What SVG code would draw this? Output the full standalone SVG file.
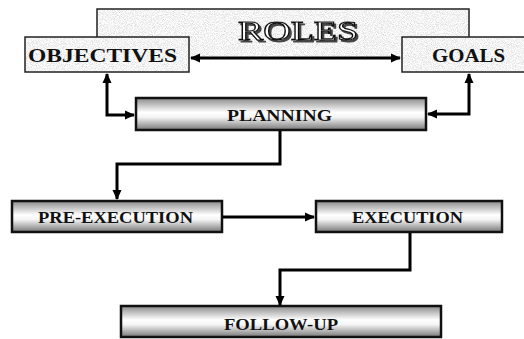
<svg xmlns="http://www.w3.org/2000/svg" width="524" height="339" viewBox="0 0 524 339">
  <defs>
    <!-- speckled stone fill for the heading boxes -->
    <filter id="granite" x="0" y="0" width="100%" height="100%">
      <feTurbulence type="fractalNoise" baseFrequency="1.1" numOctaves="2" seed="7" result="noise"/>
      <feColorMatrix in="noise" type="matrix" values="0.7 0 0 0 0.55  0.7 0 0 0 0.55  0.7 0 0 0 0.55  0 0 0 0 1" result="grain"/>
      <feComposite in="grain" in2="SourceGraphic" operator="in"/>
    </filter>
    <!-- raised outline lettering -->
    <filter id="emboss" x="-10%" y="-20%" width="130%" height="150%">
      <feOffset in="SourceAlpha" dx="2" dy="2" result="off"/>
      <feFlood flood-color="#444"/>
      <feComposite in2="off" operator="in" result="shade"/>
      <feMerge><feMergeNode in="shade"/><feMergeNode in="SourceGraphic"/></feMerge>
    </filter>
    <!-- metallic bar fill for the process steps -->
    <linearGradient id="bar" x1="0" y1="0" x2="0" y2="1">
      <stop offset="0" stop-color="#8a8a8a"/>
      <stop offset="0.45" stop-color="#ffffff"/>
      <stop offset="0.6" stop-color="#f4f4f4"/>
      <stop offset="1" stop-color="#777777"/>
    </linearGradient>
    <marker id="arrow" markerUnits="userSpaceOnUse" markerWidth="10" markerHeight="10" refX="9" refY="5" orient="auto-start-reverse">
      <path d="M0,0.5 L10,5 L0,9.5 z" fill="#000"/>
    </marker>
  </defs>
  <style>
    .stone { fill: #e2e2e2; filter: url(#granite); }
    .frame { fill: none; stroke: #222; stroke-width: 1.5; }
    .step { fill: url(#bar); stroke: #111; stroke-width: 2.5; }
    .label { font-family: "Liberation Serif", "DejaVu Serif", serif; font-weight: bold; fill: #111; }
    .big { font-size: 19px; }
    .small { font-size: 17px; }
    .link { fill: none; stroke: #000; stroke-width: 3; }
    .title { font-family: "Liberation Serif", "DejaVu Serif", serif; font-size: 28px; fill: #ffffff; stroke: #111; stroke-width: 1.1; filter: url(#emboss); }
  </style>

  <rect width="524" height="339" fill="#ffffff"/>

  <g id="roles">
    <rect class="stone" x="97" y="9" width="372" height="49"/>
    <path class="frame" d="M97,58 V9 H469 V58"/>
    <text class="title" x="238" y="40" textLength="120" lengthAdjust="spacingAndGlyphs">ROLES</text>
  </g>

  <g id="objectives">
    <rect class="stone" x="25" y="37" width="164" height="35"/>
    <rect class="frame" x="25" y="37" width="164" height="35"/>
    <text class="label big" x="28" y="62" textLength="149" lengthAdjust="spacingAndGlyphs">OBJECTIVES</text>
  </g>

  <g id="goals">
    <rect class="stone" x="402" y="37" width="124" height="35"/>
    <rect class="frame" x="402" y="37" width="124" height="35"/>
    <text class="label big" x="432" y="62" textLength="73" lengthAdjust="spacingAndGlyphs">GOALS</text>
  </g>

  <g id="planning">
    <rect class="step" x="136" y="98" width="290" height="32"/>
    <text class="label small" x="227" y="120.5" textLength="105" lengthAdjust="spacingAndGlyphs">PLANNING</text>
  </g>

  <g id="pre-execution">
    <rect class="step" x="12" y="201" width="210" height="31"/>
    <text class="label small" x="38" y="223" textLength="155" lengthAdjust="spacingAndGlyphs">PRE-EXECUTION</text>
  </g>

  <g id="execution">
    <rect class="step" x="316" y="201" width="186" height="31"/>
    <text class="label small" x="352" y="223" textLength="111" lengthAdjust="spacingAndGlyphs">EXECUTION</text>
  </g>

  <g id="follow-up">
    <rect class="step" x="121" y="306" width="320" height="31"/>
    <text class="label small" x="224" y="330" textLength="114" lengthAdjust="spacingAndGlyphs">FOLLOW-UP</text>
  </g>

  <g id="connectors">
    <path class="link" d="M191,58 H400" marker-start="url(#arrow)" marker-end="url(#arrow)"/>
    <path class="link" d="M107,74 V115 H134" marker-start="url(#arrow)" marker-end="url(#arrow)"/>
    <path class="link" d="M469,74 V114 H428" marker-start="url(#arrow)" marker-end="url(#arrow)"/>
    <path class="link" d="M280,131 V164 H117 V199" marker-end="url(#arrow)"/>
    <path class="link" d="M223,217 H314" marker-end="url(#arrow)"/>
    <path class="link" d="M410,233 V270 H280 V305" marker-end="url(#arrow)"/>
  </g>
</svg>
